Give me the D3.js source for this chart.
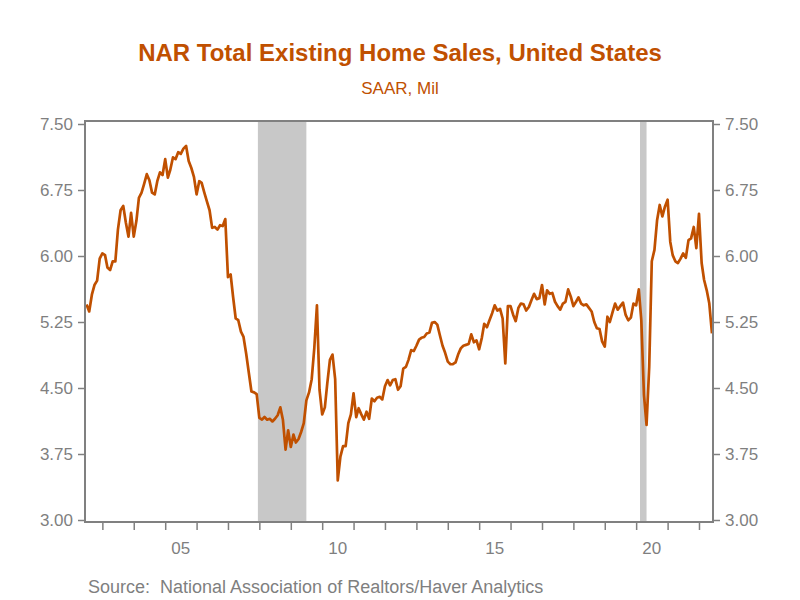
<!DOCTYPE html>
<html>
<head>
<meta charset="utf-8">
<script src="https://cdn.jsdelivr.net/npm/d3@7"></script>
<style>
  html, body { margin: 0; padding: 0; background: #ffffff; }
  svg { display: block; font-family: "Liberation Sans", Arial, sans-serif; }
</style>
</head>
<body>
<svg id="chart" width="800" height="600"></svg>
<script>
// ---- Data (monthly, SAAR, millions) ----
const seriesStart = "2002-07";   // first month of the series
const salesValues = [
  // 2002 Jul-Dec
  5.45, 5.37, 5.56, 5.67, 5.72, 5.97,
  // 2003
  6.03, 6.01, 5.87, 5.84, 5.94, 5.94, 6.30, 6.52, 6.57, 6.38, 6.22, 6.49,
  // 2004
  6.22, 6.40, 6.66, 6.72, 6.82, 6.93, 6.86, 6.72, 6.70, 6.85, 6.95, 6.92,
  // 2005
  7.10, 6.89, 6.98, 7.12, 7.10, 7.18, 7.16, 7.22, 7.25, 7.08, 7.00, 6.90,
  // 2006
  6.70, 6.85, 6.83, 6.72, 6.62, 6.52, 6.32, 6.33, 6.30, 6.35, 6.34, 6.42,
  // 2007
  5.76, 5.79, 5.54, 5.29, 5.27, 5.14, 5.08, 4.89, 4.67, 4.46, 4.45, 4.43,
  // 2008
  4.16, 4.14, 4.17, 4.14, 4.15, 4.12, 4.15, 4.19, 4.28, 4.14, 3.80, 4.02,
  // 2009
  3.83, 3.97, 3.88, 3.92, 4.00, 4.10, 4.36, 4.45, 4.60, 4.95, 5.44, 4.48,
  // 2010
  4.20, 4.28, 4.55, 4.82, 4.88, 4.60, 3.45, 3.72, 3.84, 3.84, 4.10, 4.20,
  // 2011
  4.44, 4.17, 4.27, 4.20, 4.14, 4.23, 4.15, 4.38, 4.35, 4.39, 4.40, 4.37,
  // 2012
  4.52, 4.59, 4.53, 4.59, 4.60, 4.48, 4.52, 4.72, 4.74, 4.82, 4.93, 4.92,
  // 2013
  4.98, 5.05, 5.07, 5.08, 5.12, 5.13, 5.24, 5.25, 5.22, 5.10, 4.98, 4.90,
  // 2014
  4.80, 4.77, 4.77, 4.79, 4.88, 4.95, 4.98, 4.99, 5.00, 5.11, 5.02, 5.04,
  // 2015
  4.94, 5.07, 5.23, 5.19, 5.27, 5.35, 5.44, 5.38, 5.40, 5.29, 4.78, 5.43,
  // 2016
  5.43, 5.33, 5.26, 5.41, 5.46, 5.45, 5.38, 5.42, 5.50, 5.57, 5.51, 5.52,
  // 2017
  5.67, 5.45, 5.61, 5.57, 5.58, 5.48, 5.43, 5.39, 5.46, 5.48, 5.62, 5.54,
  // 2018
  5.43, 5.48, 5.53, 5.46, 5.44, 5.45, 5.41, 5.37, 5.25, 5.18, 5.17, 5.03,
  // 2019
  4.97, 5.31, 5.25, 5.36, 5.46, 5.39, 5.43, 5.47, 5.33, 5.27, 5.30, 5.46,
  // 2020
  5.44, 5.62, 5.27, 4.42, 4.08, 4.74, 5.94, 6.07, 6.41, 6.58, 6.45, 6.56,
  // 2021
  6.64, 6.16, 6.01, 5.94, 5.92, 5.97, 6.03, 5.98, 6.18, 6.20, 6.33, 6.09,
  // 2022 Jan-Jun
  6.48, 5.92, 5.73, 5.61, 5.46, 5.12
];

const yTickValues = [3.00, 3.75, 4.50, 5.25, 6.00, 6.75, 7.50];
const xLabelYears = [2005, 2010, 2015, 2020];
const xLabelTexts = ["05", "10", "15", "20"];
const recessionStarts = ["2007-12", "2020-02"];
const recessionEnds = ["2009-06", "2020-04"];

const titleText = "NAR Total Existing Home Sales, United States";
const subtitleText = "SAAR, Mil";
const sourceText = "Source:  National Association of Realtors/Haver Analytics";

// ---- Layout ----
const plotLeft = 85, plotRight = 713, plotTop = 124, plotBottom = 520;
const frameTop = 121, frameBottom = 522;
const orange = "#C05000";
const gray = "#808080";
const textGray = "#7f7f7f";

const parseMonth = d3.timeParse("%Y-%m");
const startDate = parseMonth(seriesStart);
const data = salesValues.map((v, i) => ({ date: d3.timeMonth.offset(startDate, i), value: v }));

const x = d3.scaleTime()
  .domain([new Date(2002, 5, 13), new Date(2022, 5, 13)])
  .range([plotLeft, plotRight]);
const y = d3.scaleLinear().domain([3, 7.5]).range([plotBottom, plotTop]);

const svg = d3.select("#chart");

// Title and subtitle
svg.append("text").attr("x", 400).attr("y", 61).attr("text-anchor", "middle")
  .attr("fill", orange).attr("font-size", 24).attr("font-weight", "bold").text(titleText);
svg.append("text").attr("x", 400).attr("y", 94).attr("text-anchor", "middle")
  .attr("fill", orange).attr("font-size", 17).text(subtitleText);

// Recession bands
const bandData = recessionStarts.map((s, i) => ({
  x0: d3.timeDay.offset(parseMonth(s), 14),
  x1: d3.timeMonth.offset(parseMonth(recessionEnds[i]), 1)
}));
svg.append("g").selectAll("rect").data(bandData).join("rect")
  .attr("x", d => x(d.x0))
  .attr("width", d => x(d.x1) - x(d.x0))
  .attr("y", frameTop)
  .attr("height", frameBottom - frameTop)
  .attr("fill", "#C8C8C8");

// Line
const line = d3.line().x(d => x(d.date)).y(d => y(d.value));
svg.append("path").datum(data)
  .attr("d", line)
  .attr("fill", "none")
  .attr("stroke", orange)
  .attr("stroke-width", 2.7)
  .attr("stroke-linejoin", "round");

// Frame
svg.append("rect")
  .attr("x", plotLeft).attr("y", frameTop)
  .attr("width", plotRight - plotLeft).attr("height", frameBottom - frameTop)
  .attr("fill", "none").attr("stroke", gray).attr("stroke-width", 2);

// Axes
const fmt = d3.format(".2f");
const yAxisL = d3.axisLeft(y).tickValues(yTickValues).tickFormat(fmt).tickSize(7).tickPadding(5);
const gL = svg.append("g").attr("transform", `translate(${plotLeft},0)`).call(yAxisL);
const yAxisR = d3.axisRight(y).tickValues(yTickValues).tickFormat(fmt).tickSize(7).tickPadding(5);
const gR = svg.append("g").attr("transform", `translate(${plotRight},0)`).call(yAxisR);

const yearTicks = d3.timeYear.range(new Date(2003, 0, 1), new Date(2022, 1, 1));
const xAxis = d3.axisBottom(x).tickValues(yearTicks).tickFormat("").tickSize(8);
const gB = svg.append("g").attr("transform", `translate(0,${frameBottom})`).call(xAxis);

[gL, gR, gB].forEach(g => {
  g.select(".domain").remove();
  g.selectAll(".tick line").attr("stroke", gray).attr("stroke-width", 1.5);
  g.selectAll(".tick text").attr("fill", textGray).attr("font-size", 17)
    .attr("font-family", "'Liberation Sans', Arial, sans-serif");
});

// Year labels centred mid-year
svg.append("g").selectAll("text").data(xLabelYears).join("text")
  .attr("x", d => x(new Date(d, 6, 1)))
  .attr("y", 554)
  .attr("text-anchor", "middle")
  .attr("fill", textGray)
  .attr("font-size", 17)
  .text((d, i) => xLabelTexts[i]);

// Source
svg.append("text").attr("x", 88).attr("y", 593)
  .attr("fill", textGray).attr("font-size", 18)
  .style("white-space", "pre")
  .text(sourceText);
</script>
</body>
</html>
